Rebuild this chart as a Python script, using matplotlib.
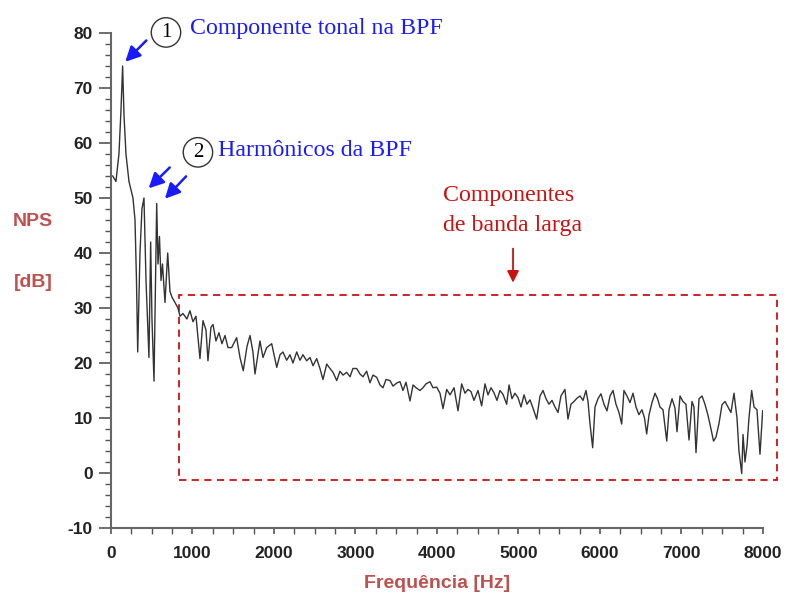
import matplotlib
matplotlib.use("Agg")
from matplotlib import pyplot as plt
from matplotlib.ticker import MultipleLocator
from matplotlib.patches import Rectangle

plt.rcParams['axes.unicode_minus'] = False

# frequency [Hz] / level [dB]
freq = [21, 61, 98, 123, 143, 160, 184, 221, 270, 295, 313, 328, 356, 380, 405, 430, 466,
        487, 503, 528, 561, 577, 595, 614, 632, 663, 696, 724, 748, 785, 822, 847,
        883, 932, 969, 1006, 1043, 1092, 1129, 1166, 1190, 1227, 1252, 1288, 1325, 1362,
        1399, 1436, 1481, 1542, 1583, 1623, 1669, 1706, 1742, 1767, 1828, 1865, 1911,
        1972, 2034, 2074, 2110, 2156, 2196, 2233, 2279, 2319, 2356, 2401, 2442, 2479,
        2524, 2564, 2601, 2647, 2687, 2724, 2770, 2810, 2847, 2892, 2933, 2969, 3015,
        3055, 3092, 3137, 3178, 3215, 3260, 3301, 3338, 3375, 3424, 3460, 3510, 3546,
        3583, 3620, 3669, 3706, 3743, 3792, 3828, 3865, 3914, 3951, 3997, 4037, 4074,
        4119, 4160, 4209, 4258, 4303, 4344, 4380, 4417, 4454, 4503, 4548, 4589, 4626,
        4663, 4699, 4736, 4773, 4810, 4855, 4884, 4920, 4957, 4994, 5031, 5068, 5104,
        5141, 5178, 5223, 5264, 5301, 5338, 5374, 5411, 5448, 5485, 5521, 5570, 5607,
        5644, 5681, 5718, 5755, 5792, 5828, 5853, 5877, 5910, 5939, 5975, 6012, 6049,
        6086, 6123, 6160, 6196, 6233, 6266, 6294, 6331, 6368, 6405, 6442, 6478, 6515,
        6546, 6573, 6601, 6638, 6675, 6706, 6736, 6773, 6819, 6847, 6884, 6920, 6945,
        6982, 7018, 7055, 7092, 7129, 7153, 7178, 7215, 7252, 7288, 7325, 7362, 7393,
        7423, 7460, 7497, 7534, 7570, 7607, 7644, 7681, 7705, 7739, 7755, 7779, 7804,
        7828, 7861, 7890, 7926, 7963, 7996]
nps = [54, 53, 58, 66, 74, 65, 58, 53, 50, 46, 35, 22, 40, 48, 50, 35, 21,
       42, 28, 16.7, 49, 38, 43, 35, 38, 31, 40, 33, 32, 31, 30, 28.5,
       29, 28, 29.5, 27.5, 28.5, 20.8, 27.7, 26, 20.4, 26.5, 27, 24, 25.5, 23.5,
       25, 22.8, 22.8, 24.6, 21, 18.6, 23, 25, 22, 18, 24, 21, 22.8,
       23.5, 19.2, 21.5, 22, 20.5, 21.5, 20, 22, 20.5, 21.5, 20.4, 21, 19.5,
       20.8, 19, 17, 19.8, 19, 18.3, 16.8, 18.5, 17.8, 18.3, 17.5, 19, 19,
       18, 17.5, 18.5, 16.4, 17.8, 17.4, 16, 15.5, 17, 16.8, 15.8, 16.4, 16.6,
       15, 16.5, 13.1, 16, 15.5, 15, 15.5, 16.2, 16.6, 15.5, 15.6, 14.5, 11.7,
       15.2, 14.2, 15.5, 11.3, 16.2, 14.5, 15.2, 14.8, 13.2, 15, 12.2, 16.2, 14.2,
       15.5, 14.6, 13.2, 15, 14.3, 12.5, 16, 13.5, 14.5, 13.7, 12, 14.2, 12.5,
       13.3, 11.8, 9.8, 14, 15, 13.5, 12.5, 13.2, 12, 11, 14, 15.2, 9.8,
       12.5, 13, 13.6, 14, 13.2, 15, 13, 9, 4.6, 12, 13.5, 14.4, 12.5,
       11.3, 14, 15, 12.5, 11, 8.9, 15, 14, 12.8, 14.5, 12, 10.6, 11.5,
       10, 7.1, 10.5, 12.8, 14.5, 13.5, 12, 11.5, 5.8, 11.5, 13.5, 11.8, 7.5,
       14, 13, 12.5, 6, 13, 12, 3.7, 13.5, 14, 12.5, 10.5, 8, 5.8,
       6.5, 9, 12.4, 13, 12, 11, 14.5, 10, 4, -0.1, 7, 2, 5,
       10, 15, 12, 11.5, 3.4, 11.3]

label_color = '#c0504d'
blue = '#1a1aff'
red = '#cc1111'

fig = plt.figure(figsize=(7.87, 6.03), dpi=100)
ax = fig.add_axes([0.141, 0.1244, 0.8285, 0.8209])

ax.plot(freq, nps, color='#333333', lw=1.0)

ax.set_xlim(0, 8000)
ax.set_ylim(-10, 80)
ax.xaxis.set_major_locator(MultipleLocator(1000))
ax.xaxis.set_minor_locator(MultipleLocator(250))
ax.yaxis.set_major_locator(MultipleLocator(10))
ax.yaxis.set_minor_locator(MultipleLocator(2))
ax.tick_params(which='both', color='#555555', labelsize=12.5, labelcolor='#222222')
ax.tick_params(axis='y', which='major', length=9, width=1.2, pad=4)
ax.tick_params(axis='y', which='minor', length=4.5, width=1.0)
ax.tick_params(axis='x', which='major', length=4, width=1.2, pad=9)
ax.tick_params(axis='x', which='minor', length=4, width=1.0)
for lab in ax.get_xticklabels() + ax.get_yticklabels():
    lab.set_fontfamily('Liberation Sans')
    lab.set_fontweight('bold')
for side in ['top', 'right']:
    ax.spines[side].set_visible(False)
for side in ['left', 'bottom']:
    ax.spines[side].set_color('#666666')
    ax.spines[side].set_linewidth(1.5)

ax.set_xlabel('Frequência [Hz]', fontsize=14, fontweight='bold', color=label_color,
              family='Liberation Sans', labelpad=10)
fig.text(0.042, 0.632, 'NPS', fontsize=14, fontweight='bold', color=label_color,
         family='Liberation Sans', ha='center', va='center')
fig.text(0.042, 0.532, '[dB]', fontsize=14, fontweight='bold', color=label_color,
         family='Liberation Sans', ha='center', va='center')

# broadband box
ax.add_patch(Rectangle((834, -1.3), 8172 - 834, 32.4 + 1.3, fill=False,
                       ec=red, lw=1.3, ls=(0, (4, 3)), clip_on=False))

serif = 'Liberation Serif'
fs = 17.2
arrow_b = dict(arrowstyle='-|>,head_length=0.9,head_width=0.45', color=blue, lw=1.8)

ax.text(675, 80.1, '1', fontsize=15, family=serif, ha='center', va='center',
        bbox=dict(boxstyle='circle,pad=0.25', fc='white', ec='#333333', lw=1.0))
ax.text(969, 80.9, 'Componente tonal na BPF', fontsize=fs, family=serif, color=blue,
        ha='left', va='center')
ax.annotate('', xy=(151, 74.4), xytext=(458, 79.0), arrowprops=arrow_b)

ax.text(1067, 58.3, '2', fontsize=15, family=serif, ha='center', va='center',
        bbox=dict(boxstyle='circle,pad=0.25', fc='white', ec='#333333', lw=1.0))
ax.text(1313, 58.6, 'Harmônicos da BPF', fontsize=fs, family=serif, color=blue,
        ha='left', va='center')
ax.annotate('', xy=(438, 51.4), xytext=(745, 55.9), arrowprops=arrow_b)
ax.annotate('', xy=(638, 49.5), xytext=(945, 54.3), arrowprops=arrow_b)

ax.text(4074, 50.5, 'Componentes', fontsize=fs, family=serif, color=red,
        ha='left', va='center')
ax.text(4074, 45.0, 'de banda larga', fontsize=fs, family=serif, color=red,
        ha='left', va='center')
ax.annotate('', xy=(4933, 34.1), xytext=(4933, 41.3),
            arrowprops=dict(arrowstyle='-|>,head_length=0.7,head_width=0.35',
                            color=red, lw=1.3))

fig.savefig('out.png', dpi=100, facecolor='white')
